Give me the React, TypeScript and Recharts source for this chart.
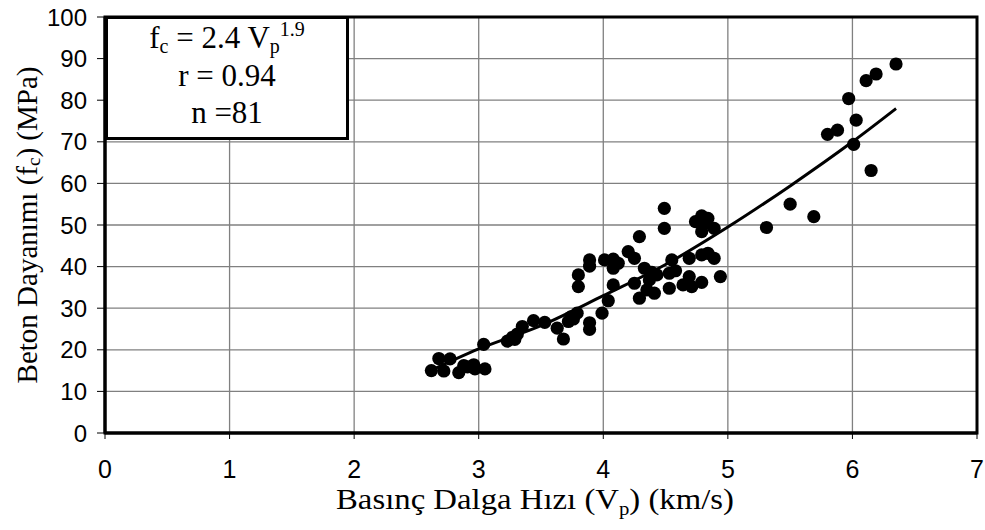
import React from 'react';
import { ScatterChart, Scatter, XAxis, YAxis, CartesianGrid, ReferenceArea } from 'recharts';

// measured points (Vp km/s, fc MPa)
const vp = [
  2.62, 2.68, 2.72, 2.77, 2.84, 2.88, 2.91, 2.96, 2.97, 3.05, 3.04,
  3.23, 3.27, 3.29, 3.31, 3.35, 3.44, 3.53, 3.63, 3.68, 3.72, 3.74, 3.76, 3.79,
  3.80, 3.80, 3.89, 3.89, 3.89, 3.89, 3.99, 4.04, 4.01, 4.08, 4.08, 4.08, 4.12,
  4.20, 4.25, 4.29, 4.25, 4.33, 4.39, 4.37, 4.29, 4.35, 4.41, 4.43,
  4.49, 4.49, 4.53, 4.55, 4.53, 4.58, 4.64, 4.69, 4.69, 4.71,
  4.79, 4.79, 4.84, 4.89, 4.74, 4.79, 4.84, 4.79, 4.82, 4.89, 4.94,
  5.31, 5.50, 5.69, 5.80, 5.88, 5.97, 6.03, 6.01, 6.15, 6.11, 6.19, 6.35,
];
const fc = [
  15.0, 17.9, 14.9, 17.8, 14.5, 16.2, 15.9, 16.4, 15.4, 15.4, 21.3,
  22.1, 23.0, 22.5, 23.8, 25.6, 27.0, 26.6, 25.2, 22.6, 26.8, 27.9, 27.4, 28.8,
  38.0, 35.2, 41.6, 40.1, 26.5, 24.9, 28.8, 31.8, 41.6, 41.8, 39.6, 35.6, 40.8,
  43.6, 42.0, 47.2, 36.0, 39.6, 38.6, 36.8, 32.4, 34.4, 33.6, 38.0,
  54.0, 49.2, 38.4, 41.6, 34.8, 39.0, 35.6, 42.0, 37.6, 35.2,
  36.2, 42.8, 43.2, 42.0, 50.8, 52.2, 51.6, 48.4, 50.4, 49.2, 37.6,
  49.4, 55.0, 52.0, 71.8, 72.8, 80.4, 75.2, 69.4, 63.1, 84.7, 86.3, 88.7,
];

// fitted curve
const fitVp = [2.6, 3.0, 3.5, 4.0, 4.5, 5.0, 5.5, 6.0, 6.35];
const fitFc = [14.8, 20.2, 25.8, 33.0, 40.5, 49.5, 59.4, 70.0, 78.0];

const xTicks = [0, 1, 2, 3, 4, 5, 6, 7];
const yTicks = [0, 10, 20, 30, 40, 50, 60, 70, 80, 90, 100];

const points = vp.map((v, i) => ({ vp: v, fc: fc[i] }));
const fitLine = fitVp.map((v, i) => ({ vp: v, fc: fitFc[i] }));

const serif = '"Liberation Serif", "Times New Roman", serif';
const sans = '"Liberation Sans", Arial, sans-serif';

const Dot = (props: any) => <circle cx={props.cx} cy={props.cy} r={6.6} fill="#000" />;

const YTitle = (props: any) => {
  const { viewBox } = props;
  const cy = viewBox.y + viewBox.height / 2;
  return (
    <text
      x={27}
      y={cy}
      transform={`rotate(-90, 27, ${cy})`}
      textAnchor="middle"
      dominantBaseline="central"
      style={{ fontFamily: serif, fontSize: 29 }}
      fill="#000"
    >
      Beton Dayanımı (f<tspan style={{ fontSize: 19 }} dy={6}>c</tspan>
      <tspan dy={-6}>) (MPa)</tspan>
    </text>
  );
};

const XTitle = () => (
  <text
    x={535}
    y={509}
    textAnchor="middle"
    textLength={398}
    lengthAdjust="spacingAndGlyphs"
    style={{ fontFamily: serif, fontSize: 30 }}
    fill="#000"
  >
    Basınç Dalga Hızı (V<tspan style={{ fontSize: 19 }} dy={6}>p</tspan>
    <tspan dy={-6}>) (km/s)</tspan>
  </text>
);

const lineStyle: React.CSSProperties = {
  position: 'absolute',
  left: 0,
  right: 0,
  height: 37,
  lineHeight: '37px',
  textAlign: 'center',
  whiteSpace: 'nowrap',
};
const small: React.CSSProperties = { fontSize: 20, lineHeight: 0, position: 'relative' };

export default function App() {
  return (
    <div style={{ position: 'absolute', left: 0, top: 0, width: 985, height: 530, background: '#fff' }}>
      <ScatterChart width={985} height={530} margin={{ top: 17, right: 8, bottom: 27, left: 35 }}>
        <CartesianGrid stroke="#808080" strokeWidth={1.3} />
        <XAxis
          type="number"
          dataKey="vp"
          domain={[0, 7]}
          ticks={xTicks}
          interval={0}
          height={70}
          tickSize={6}
          tickMargin={21}
          axisLine={{ stroke: '#000', strokeWidth: 3 }}
          tickLine={{ stroke: '#000' }}
          tick={{ fontFamily: sans, fontSize: 25, fill: '#000' }}
          label={{ content: XTitle }}
        />
        <YAxis
          type="number"
          dataKey="fc"
          domain={[0, 100]}
          ticks={yTicks}
          interval={0}
          width={70}
          tickSize={8}
          tickMargin={10}
          axisLine={{ stroke: '#000', strokeWidth: 3 }}
          tickLine={{ stroke: '#000' }}
          tick={{ fontFamily: sans, fontSize: 24, fill: '#000' }}
          label={{ content: YTitle }}
        />
        <ReferenceArea x1={0} x2={7} y1={0} y2={100} fill="none" stroke="#000" strokeWidth={3} />
        <Scatter data={points} shape={Dot} isAnimationActive={false} />
        <Scatter
          data={fitLine}
          shape={() => null}
          line={{ stroke: '#000', strokeWidth: 3 }}
          lineJointType="monotoneX"
          isAnimationActive={false}
        />
      </ScatterChart>
      <div
        style={{
          position: 'absolute',
          left: 105,
          top: 16,
          width: 244,
          height: 124,
          boxSizing: 'border-box',
          border: '3px solid #000',
          background: '#fff',
          fontFamily: serif,
          fontSize: 31,
          color: '#000',
        }}
      >
        <div style={{ ...lineStyle, top: 0 }}>
          f<span style={{ ...small, top: 5 }}>c</span> = 2.4 V<span style={{ ...small, top: 5 }}>p</span>
          <span style={{ ...small, top: -12 }}>1.9</span>
        </div>
        <div style={{ ...lineStyle, top: 38 }}>r = 0.94</div>
        <div style={{ ...lineStyle, top: 75 }}>n =81</div>
      </div>
    </div>
  );
}
